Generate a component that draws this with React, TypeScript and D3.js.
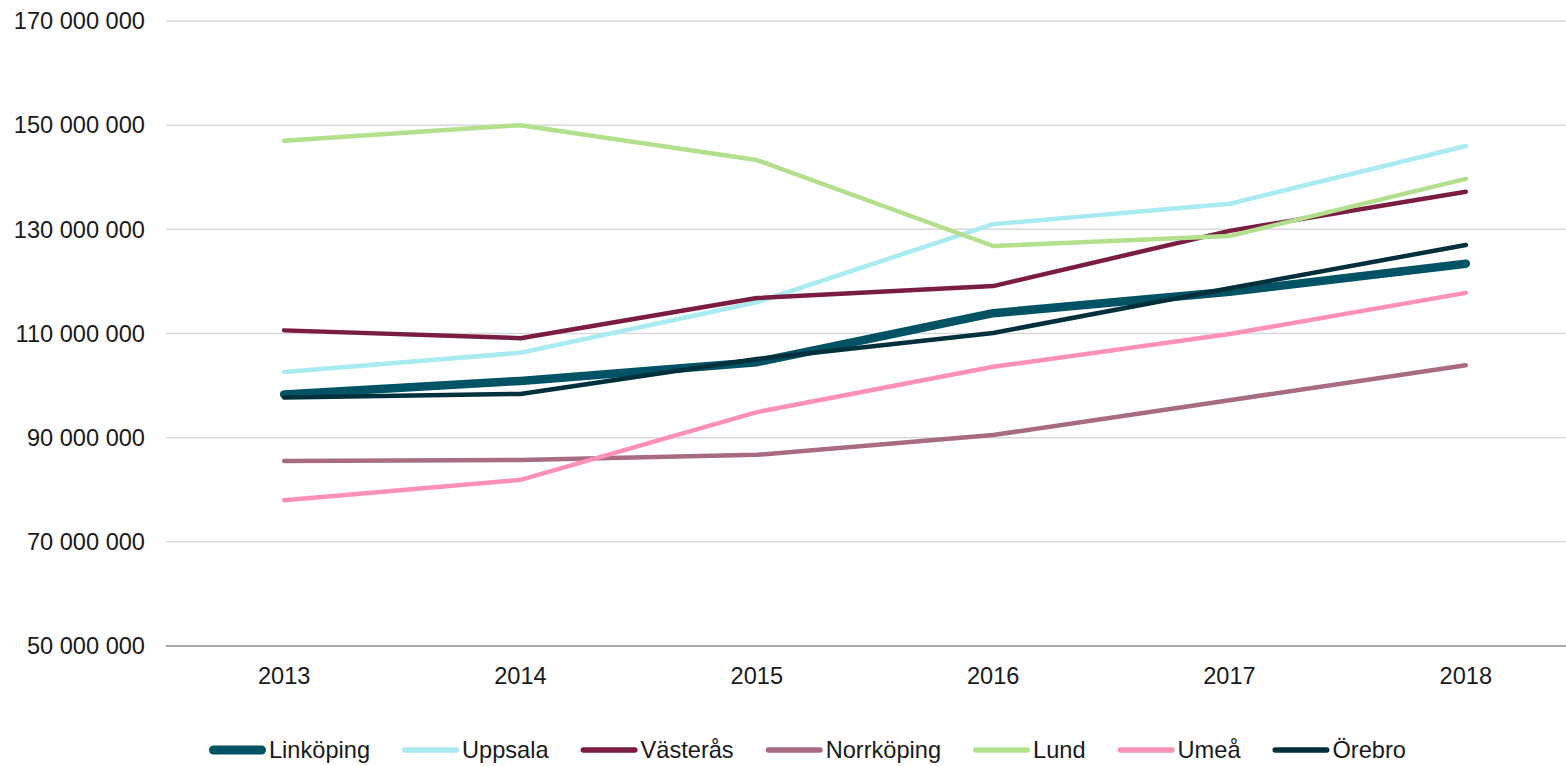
import React from "react";
import * as d3 from "d3";

const years = ["2013", "2014", "2015", "2016", "2017", "2018"];
const yTicks = [50e6, 70e6, 90e6, 110e6, 130e6, 150e6, 170e6];

const linkoping = [98.3e6, 100.9e6, 104.5e6, 113.9e6, 118.0e6, 123.4e6];
const uppsala = [102.6e6, 106.3e6, 116.0e6, 131.0e6, 134.9e6, 146.0e6];
const vasteras = [110.6e6, 109.1e6, 116.8e6, 119.1e6, 129.7e6, 137.2e6];
const norrkoping = [85.5e6, 85.7e6, 86.7e6, 90.5e6, 97.2e6, 103.9e6];
const lund = [147.0e6, 150.0e6, 143.3e6, 126.8e6, 128.7e6, 139.7e6];
const umea = [78.0e6, 81.9e6, 94.9e6, 103.6e6, 109.9e6, 117.8e6];
const orebro = [97.7e6, 98.4e6, 105.1e6, 110.1e6, 118.7e6, 127.0e6];

const seriesNames = ["Linköping", "Uppsala", "Västerås", "Norrköping", "Lund", "Umeå", "Örebro"];
const seriesValues = [linkoping, uppsala, vasteras, norrkoping, lund, umea, orebro];
const seriesColors = ["#005364", "#a8ebf0", "#7b1d42", "#a86c82", "#b2e08c", "#ff91b5", "#00303b"];
const seriesWidths = [8.5, 4.5, 4.5, 4.5, 4.5, 4.5, 4.5];
const legendWidths = [9, 5.5, 5.5, 5.5, 5.5, 5.5, 5.5];
const drawOrder = [1, 2, 3, 4, 5, 0, 6];

const W = 1566;
const H = 766;
const FONT = "'Liberation Sans', Arial, sans-serif";
const FS = 23.6;

function measure(text: string): number {
  const c = document.createElement("canvas");
  const ctx = c.getContext("2d");
  if (!ctx) return text.length * 12;
  ctx.font = `${FS}px ${FONT}`;
  return ctx.measureText(text).width;
}

export default function App() {
  const x = d3.scaleBand<string>().domain(years).range([166, 1584]);
  const y = d3.scaleLinear().domain([50e6, 170e6]).range([646, 21]);
  const cx = (yr: string) => (x(yr) as number) + x.bandwidth() / 2;
  const fmt = (v: number) => d3.format(",")(v).replace(/,/g, " ");
  const line = d3
    .line<number>()
    .x((_, i) => cx(years[i]))
    .y((v) => y(v));

  const legendLine = 57;
  const legendGap = 3;
  const legendSpacing = 32;
  let lx = 209;
  const legendItems = seriesNames.map((n, i) => {
    const item = { n, i, x: lx };
    lx += legendLine + legendGap + measure(n) + legendSpacing;
    return item;
  });

  return (
    <svg
      width={W}
      height={H}
      style={{ position: "absolute", left: 0, top: 0, background: "#fff" }}
      fontFamily={FONT}
    >
      {yTicks.slice(1).map((t) => (
        <line key={t} x1={166} x2={W} y1={y(t)} y2={y(t)} stroke="#d9d9d9" strokeWidth={1.5} />
      ))}
      <line x1={166} x2={W} y1={y(50e6)} y2={y(50e6)} stroke="#8c8c8c" strokeWidth={1.5} />
      {yTicks.map((t) => (
        <text key={t} x={145} y={y(t)} dy="0.35em" textAnchor="end" fontSize={FS} fill="#1a1a1a">
          {fmt(t)}
        </text>
      ))}
      {years.map((yr) => (
        <text key={yr} x={cx(yr)} y={684} textAnchor="middle" fontSize={FS} fill="#1a1a1a">
          {yr}
        </text>
      ))}
      {drawOrder.map((i) => (
        <path
          key={seriesNames[i]}
          d={line(seriesValues[i]) || ""}
          fill="none"
          stroke={seriesColors[i]}
          strokeWidth={seriesWidths[i]}
          strokeLinecap="round"
          strokeLinejoin="round"
        />
      ))}
      {legendItems.map((it) => (
        <g key={it.n}>
          <line
            x1={it.x + legendWidths[it.i] / 2}
            x2={it.x + legendLine - legendWidths[it.i] / 2}
            y1={750}
            y2={750}
            stroke={seriesColors[it.i]}
            strokeWidth={legendWidths[it.i]}
            strokeLinecap="round"
          />
          <text x={it.x + legendLine + legendGap} y={750} dy="0.35em" fontSize={FS} fill="#1a1a1a">
            {it.n}
          </text>
        </g>
      ))}
    </svg>
  );
}
